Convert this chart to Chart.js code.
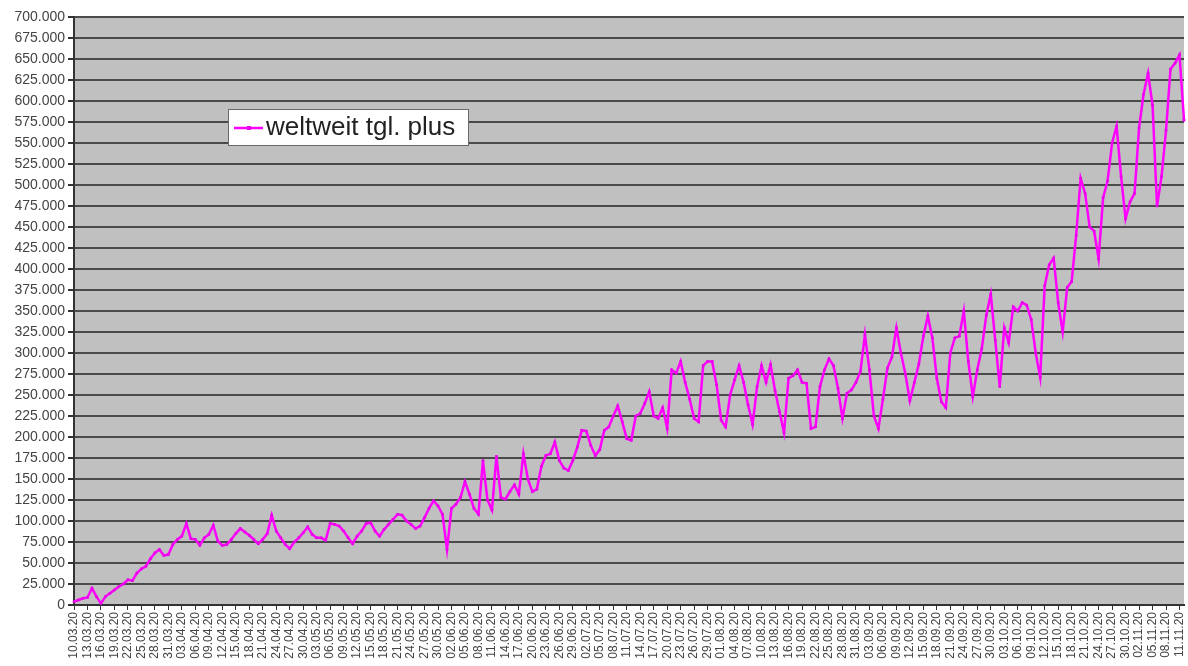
<!DOCTYPE html>
<html>
<head>
<meta charset="utf-8">
<title>weltweit tgl. plus</title>
<script src="https://cdn.jsdelivr.net/npm/chart.js@4/dist/chart.umd.min.js"></script>
<style>
    html, body { margin: 0; padding: 0; background: #fff; }
</style>
</head>
<body>
<canvas id="chart" width="1188" height="666"></canvas>
<script>
// Tage ab 10.03.20 (eine Kategorie pro Tag)
const firstDay = new Date(2020, 2, 10);
const dayCount = 248;
const days = [];
for (let i = 0; i < dayCount; i++) {
    const d = new Date(firstDay.getFullYear(), firstDay.getMonth(), firstDay.getDate() + i);
    days.push(String(d.getDate()).padStart(2, '0') + '.' + String(d.getMonth() + 1).padStart(2, '0') + '.20');
}

// nur jeder 3. Tag bekommt eine Beschriftung
const labelEvery = 3;

// weltweit tgl. plus, in Tausend
const plusThousands = [
    4, 6, 8, 9, 20, 10, 2, 10, 14, 18, 22, 25, 30, 29, 38, 43, 46, 55, 62, 66,
    59, 60, 72, 78, 82, 97, 79, 78, 71, 80, 84,
    95, 76, 71, 72, 78, 85, 91, 87, 83, 78, 73, 78, 85, 107, 88, 80, 72, 67, 75,
    80, 86, 93, 84, 80, 80, 77, 97, 96, 94, 88, 80, 73, 82, 88, 97, 98, 88, 82, 90,
    96, 102, 108, 107, 100, 96, 91, 94, 104, 115, 124, 118, 108, 66, 115, 120, 128, 147, 132, 115,
    108, 172, 125, 113, 177, 128,
    126, 135, 143, 132, 180, 150, 135, 138, 165, 178, 180, 194, 172, 163, 160, 172, 188, 208, 207, 190,
    178, 185, 208, 212, 225, 237, 218, 198, 196, 225, 228, 240, 254, 225, 222, 235, 210, 280, 276, 290,
    265, 245, 222, 218, 285, 290, 290, 262, 220, 212, 250, 268,
    285, 265, 238, 215, 260, 285, 265, 286, 255, 230, 205, 270, 273, 280, 265, 264, 210, 212, 260, 280,
    293, 285, 258, 222, 252, 256, 265, 278, 322, 280, 225, 210, 245, 282, 295, 330, 300, 275, 243, 265,
    287, 320, 344, 318, 270, 242, 235, 300, 318, 320, 350, 290, 248, 280, 305, 345, 370, 315, 260, 330,
    312, 355, 350, 360, 357, 340, 300, 271, 380,
    405, 413, 360, 325, 378, 385, 440, 508, 490, 450, 445, 412, 485, 505, 550, 570, 510, 460, 480, 490,
    568, 608, 633, 595, 475, 510, 565, 638, 645, 655, 577
];

const yMax = 700000;
const yStep = 25000;

const seriesName = 'weltweit tgl. plus';
const lineColor = '#ff00ff';

function formatDe(v) {
    return String(v).replace(/\B(?=(\d{3})+(?!\d))/g, '.');
}

// grauer Hintergrund der Zeichenfläche
const plotBackground = {
    id: 'plotBackground',
    beforeDraw(chart) {
        const { ctx, chartArea } = chart;
        ctx.save();
        ctx.fillStyle = '#c0c0c0';
        ctx.fillRect(chartArea.left, chartArea.top, chartArea.right - chartArea.left, chartArea.bottom - chartArea.top);
        ctx.restore();
    }
};

// Legende im Kasten wie in Excel
const legendBox = {
    id: 'legendBox',
    afterDraw(chart) {
        const { ctx, chartArea } = chart;
        const ds = chart.data.datasets[0];
        const x = chartArea.left + 154;
        const y = chartArea.top + 92;
        const w = 240, h = 36;
        ctx.save();
        ctx.fillStyle = '#ffffff';
        ctx.fillRect(x, y, w, h);
        ctx.strokeStyle = '#6a6a6a';
        ctx.lineWidth = 1;
        ctx.strokeRect(x + 0.5, y + 0.5, w, h);
        // Linie mit Marker
        ctx.strokeStyle = ds.borderColor;
        ctx.lineWidth = 2.5;
        ctx.beginPath();
        ctx.moveTo(x + 6, y + 19);
        ctx.lineTo(x + 35, y + 19);
        ctx.stroke();
        ctx.fillStyle = ds.pointBackgroundColor;
        ctx.fillRect(x + 19, y + 17, 4, 4);
        // Text
        ctx.fillStyle = '#222';
        ctx.font = '26px "Liberation Sans", Arial, sans-serif';
        ctx.textBaseline = 'middle';
        ctx.fillText(ds.label, x + 38, y + 19);
        ctx.restore();
    }
};

const ctx = document.getElementById('chart').getContext('2d');
new Chart(ctx, {
    type: 'line',
    data: {
        labels: days,
        datasets: [{
            label: seriesName,
            data: plusThousands.map(v => v * 1000),
            borderColor: lineColor,
            backgroundColor: lineColor,
            pointBackgroundColor: '#e600e6',
            pointBorderColor: lineColor,
            borderWidth: 2.5,
            pointStyle: 'rect',
            pointRadius: 1.8,
            pointBorderWidth: 0,
            tension: 0,
            fill: false
        }]
    },
    options: {
        responsive: false,
        animation: false,
        events: [],
        layout: { padding: { top: 17, right: 0, left: 0, bottom: 0 } },
        plugins: {
            legend: { display: false },
            tooltip: { enabled: false }
        },
        scales: {
            x: {
                offset: false,
                afterFit(scale) {
                    scale.height = 61;
                    scale.paddingRight = 0;
                    scale.paddingLeft = 0;
                },
                grid: {
                    drawOnChartArea: false,
                    drawTicks: true,
                    tickLength: 5,
                    color: '#333',
                    lineWidth: 1
                },
                border: { display: true, color: '#333', width: 2 },
                ticks: {
                    autoSkip: false,
                    maxRotation: 90,
                    minRotation: 90,
                    padding: 2,
                    color: '#444',
                    font: { family: '"Liberation Sans", Arial, sans-serif', size: 12 },
                    callback: (v, i) => (i % labelEvery === 0 ? days[i] : null)
                }
            },
            y: {
                min: 0,
                max: yMax,
                afterFit(scale) { scale.width = 74; },
                grid: {
                    color: '#4a4a4a',
                    lineWidth: 2,
                    drawTicks: true,
                    tickLength: 6,
                    tickColor: '#333'
                },
                border: { display: true, color: '#333', width: 2 },
                ticks: {
                    stepSize: yStep,
                    padding: 3,
                    color: '#444',
                    font: { family: '"Liberation Sans", Arial, sans-serif', size: 14 },
                    callback: v => formatDe(v)
                }
            }
        }
    },
    plugins: [plotBackground, legendBox]
});
</script>
</body>
</html>
